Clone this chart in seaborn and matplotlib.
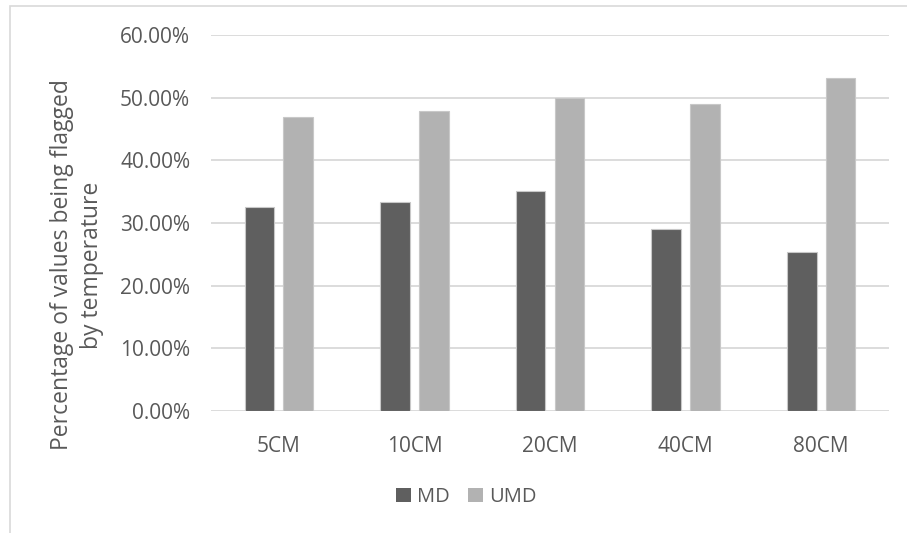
import matplotlib
matplotlib.use("Agg")
import matplotlib.pyplot as plt
from matplotlib.patches import Rectangle, Patch
from matplotlib.ticker import FuncFormatter
import seaborn as sns
import pandas as pd

depths = ["5CM", "10CM", "20CM", "40CM", "80CM"]
md = [0.325, 0.334, 0.351, 0.290, 0.253]
umd = [0.469, 0.478, 0.500, 0.490, 0.531]
series = ["MD", "UMD"]
colors = {"MD": "#5f5f5f", "UMD": "#b2b2b2"}

df = pd.DataFrame({
    "depth": depths * 2,
    "value": md + umd,
    "series": ["MD"] * len(depths) + ["UMD"] * len(depths),
})

sns.set_style("white")
plt.rcParams["font.family"] = ["Open Sans", "DejaVu Sans"]
text_color = "#595959"

W, H = 907, 533
fig = plt.figure(figsize=(W / 100, H / 100), dpi=100)

# chart border (box cropped at right/bottom)
fig.patches.append(Rectangle((10 / W, -0.1), 1.2, 1 - 6 / H + 0.1,
                             transform=fig.transFigure, fill=False,
                             edgecolor="#d9d9d9", linewidth=1.2))

ax = fig.add_axes([211 / W, 1 - 411 / H, (889 - 211) / W, (411 - 35) / H])
sns.barplot(data=df, x="depth", y="value", hue="series", order=depths,
            hue_order=series, palette=colors, width=0.574, gap=0.24,
            edgecolor="#c8c8c8", linewidth=0.8, legend=False, ax=ax, zorder=3)

ax.set_ylim(0, 0.6)
ax.set_yticks([0, 0.1, 0.2, 0.3, 0.4, 0.5, 0.6])
ax.yaxis.set_major_formatter(FuncFormatter(lambda v, p: f"{v * 100:.2f}%"))
ax.grid(axis="y", color="#d9d9d9", linewidth=1.3, zorder=0)
ax.set_axisbelow(True)
for s in ax.spines.values():
    s.set_visible(False)
ax.tick_params(axis="y", length=0, pad=15, labelsize=15, labelcolor=text_color)
ax.tick_params(axis="x", length=0, pad=18, labelsize=15, labelcolor=text_color)
ax.set_xlabel("")
ax.set_ylabel("")

fig.text(77 / W, 1 - 265 / H, "Percentage of values being flagged\nby temperature",
         rotation=90, ha="center", va="center", multialignment="center",
         fontsize=16.5, color=text_color, linespacing=1.3)

handles = [Patch(facecolor=colors[s], edgecolor="none", label=s) for s in series]
fig.legend(handles=handles, loc="center", bbox_to_anchor=(466 / W, 1 - 497 / H),
           ncol=2, frameon=False, fontsize=14.5, labelcolor=text_color,
           handlelength=0.75, handleheight=0.75, handletextpad=0.3,
           columnspacing=0.9)

fig.savefig("out.png", dpi=100)
